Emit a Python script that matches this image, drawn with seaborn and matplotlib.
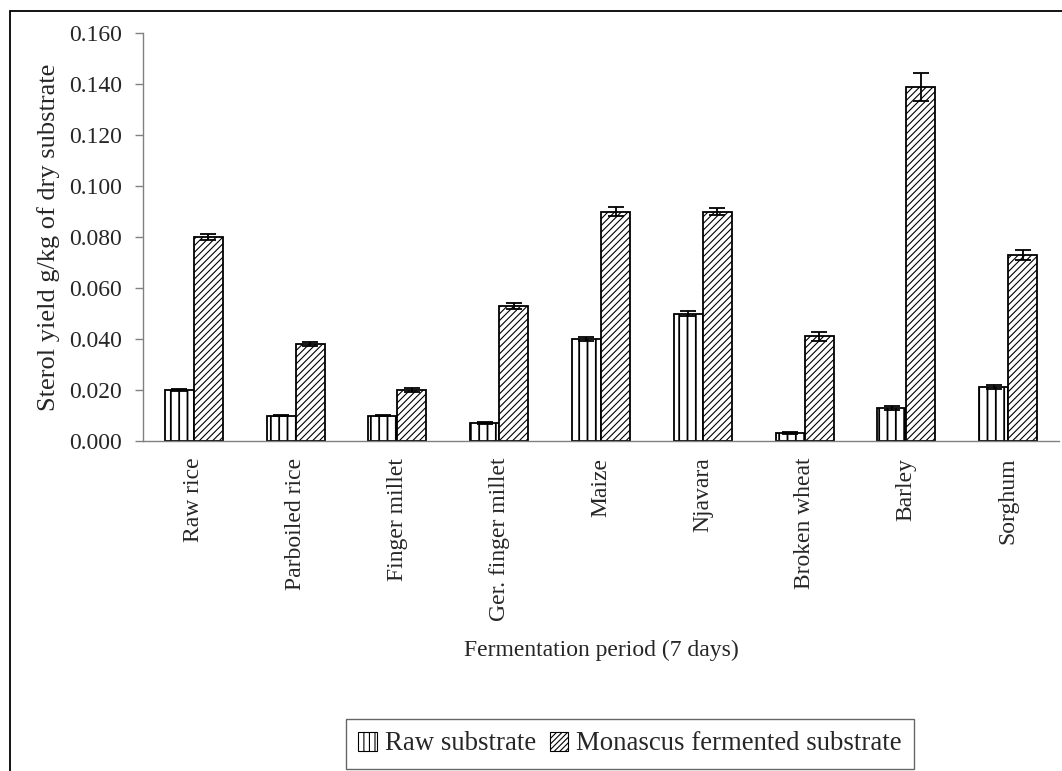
import matplotlib
matplotlib.use("Agg")
import matplotlib.pyplot as plt
from matplotlib.patches import Patch, Rectangle
import numpy as np
import pandas as pd
import seaborn as sns

categories = ["Raw rice", "Parboiled rice", "Finger millet", "Ger. finger millet",
              "Maize", "Njavara", "Broken wheat", "Barley", "Sorghum"]
raw_values = [0.020, 0.010, 0.010, 0.007, 0.040, 0.050, 0.003, 0.013, 0.021]
raw_errors = [0.0004, 0.0003, 0.0003, 0.0003, 0.0009, 0.0011, 0.0004, 0.0009, 0.0008]
ferm_values = [0.080, 0.038, 0.020, 0.053, 0.090, 0.090, 0.041, 0.139, 0.073]
ferm_errors = [0.0012, 0.0008, 0.0007, 0.0012, 0.0019, 0.0014, 0.0017, 0.0055, 0.0020]
series_names = ["Raw substrate", "Monascus fermented substrate"]
yticks = [0.0, 0.02, 0.04, 0.06, 0.08, 0.10, 0.12, 0.14, 0.16]

sns.set_style("white")
plt.rcParams["font.family"] = ["Liberation Serif", "DejaVu Serif"]
plt.rcParams["hatch.linewidth"] = 0.8

df = pd.DataFrame({
    "category": categories * 2,
    "series": [series_names[0]] * len(categories) + [series_names[1]] * len(categories),
    "value": raw_values + ferm_values,
})

fig = plt.figure(figsize=(10.62, 7.71), dpi=100)
ax = fig.add_axes([143 / 1062, 1 - 441 / 771, (1059 - 143) / 1062, (441 - 33) / 771])

sns.barplot(data=df, x="category", y="value", hue="series", order=categories,
            hue_order=series_names, palette=["white", "white"], width=0.57,
            edgecolor="black", linewidth=1.3, errorbar=None, legend=False, ax=ax)

hatches = ["||", "/////"]
errs = [raw_errors, ferm_errors]
vals = [raw_values, ferm_values]
for ci, cont in enumerate(ax.containers[:2]):
    xs = []
    for p in cont.patches:
        p.set_hatch(hatches[ci])
        p.set_facecolor("white")
        p.set_edgecolor("black")
        if ci == 0 and hasattr(p, "set_hatch_linewidth"):
            p.set_hatch_linewidth(1.3)
        xs.append(p.get_x() + p.get_width() / 2)
    ax.errorbar(xs, vals[ci], yerr=errs[ci], fmt="none", ecolor="black",
                elinewidth=1.3, capsize=5.5, capthick=1.3, zorder=5)

ax.set_xlim(-0.5, len(categories) - 0.5)
ax.set_ylim(0, 0.16)
ax.set_yticks(yticks)
ax.set_yticklabels([f"{v:.3f}" for v in yticks], fontsize=17)
ax.set_xticks(range(len(categories)))
ax.set_xticklabels(categories, rotation=90, fontsize=17, va="top")
ax.tick_params(axis="x", which="major", length=0, pad=12)
ax.set_xticks(np.arange(-0.5, len(categories), 1.0), minor=True)
ax.tick_params(axis="x", which="minor", length=6, color="#808080", width=1, direction="out")
ax.tick_params(axis="y", length=6, color="#808080", width=1, direction="out", pad=9, left=True)

for s in ["top", "right"]:
    ax.spines[s].set_visible(False)
for s in ["left", "bottom"]:
    ax.spines[s].set_color("#808080")
    ax.spines[s].set_linewidth(1.0)

ax.set_xlabel("")
ax.set_ylabel("Sterol yield g/kg of dry substrate", fontsize=19)
ax.yaxis.set_label_coords((60 - 143) / 916, 0.5)
fig.text(601 / 1062, 1 - 650 / 771, "Fermentation period (7 days)", fontsize=17,
         ha="center", va="center")

handles = [Patch(facecolor="white", edgecolor="black", hatch=h, linewidth=0.8) for h in ["|||", "//////"]]
leg = fig.legend(handles, series_names, loc="center", bbox_to_anchor=(630 / 1062, 1 - 744 / 771),
                 ncol=2, fontsize=19.3, frameon=True, fancybox=False, handlelength=0.7,
                 handleheight=0.7, handletextpad=0.3, columnspacing=0.5, borderpad=0.45)
leg.get_frame().set_edgecolor("#404040")
leg.get_frame().set_linewidth(1.0)

fig.add_artist(Rectangle((10 / 1062, -0.05), 1.2, 1 - 11 / 771 + 0.05, transform=fig.transFigure,
                         fill=False, edgecolor="black", linewidth=1.3))

fig.savefig("out.png", dpi=100)
